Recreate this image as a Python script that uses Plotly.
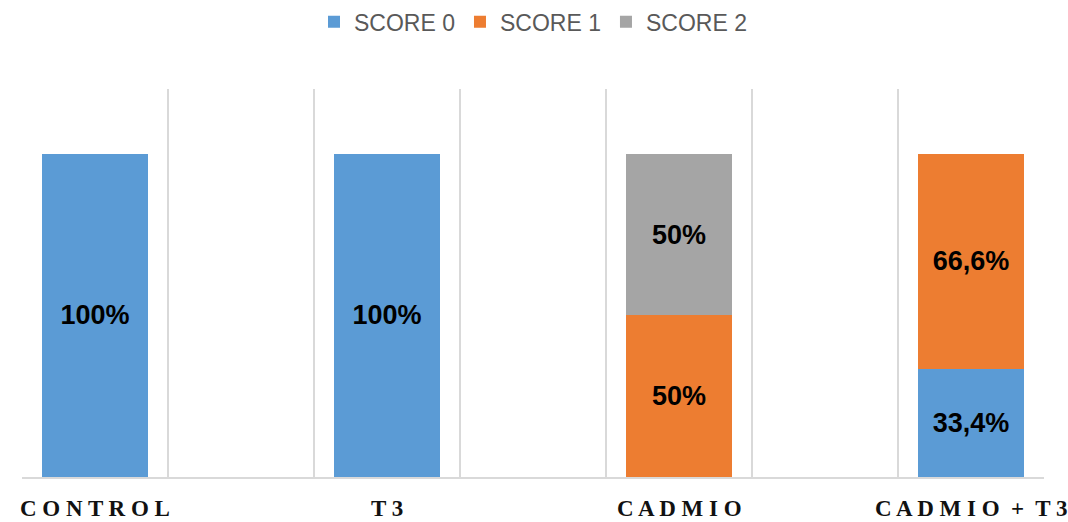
import plotly.graph_objects as go

categories = ["CONTROL", "T3", "CADMIO", "CADMIO + T3"]
series_names = ["SCORE 0", "SCORE 1", "SCORE 2"]
score0 = [1.0, 1.0, 0.0, 0.334]
score1 = [0.0, 0.0, 0.5, 0.666]
score2 = [0.0, 0.0, 0.5, 0.0]
labels0 = ["100%", "100%", "", "33,4%"]
labels1 = ["", "", "50%", "66,6%"]
labels2 = ["", "", "50%", ""]
colors = ["#5B9BD5", "#ED7D31", "#A5A5A5"]

# each category occupies the middle of every other slot of the grid
xpos = [i * 2 + 0.5 for i in range(len(categories))]

fig = go.Figure()
for name, vals, labs, col in zip(series_names, [score0, score1, score2],
                                  [labels0, labels1, labels2], colors):
    fig.add_trace(go.Bar(
        x=xpos, y=vals, name=name, marker=dict(color=col, line=dict(width=0)),
        width=0.73, text=[("<b>" + t + "</b>") if t else "" for t in labs],
        textposition="inside", insidetextanchor="middle",
        textangle=0, constraintext="none",
        textfont=dict(family="Liberation Sans, Arial", size=27, color="#000000"),
        hoverinfo="skip",
    ))

def spaced(s):
    words = s.split(" ")
    return "  ".join(" ".join(list(w)) for w in words)

for xp, cat in zip(xpos, categories):
    fig.add_annotation(
        x=xp, y=0, xref="x", yref="paper", yanchor="top", yshift=-18,
        text="<b>" + spaced(cat) + "</b>", showarrow=False, borderpad=0,
        font=dict(family="Liberation Serif, Times New Roman", size=23, color="#111111"),
    )

fig.update_layout(
    barmode="stack",
    width=1068, height=522,
    margin=dict(l=22, r=24, t=89, b=45),
    plot_bgcolor="white", paper_bgcolor="white",
    showlegend=True,
    legend=dict(orientation="h", xanchor="center", x=0.5, yref="container",
                yanchor="middle", y=0.958, traceorder="normal",
                font=dict(family="Liberation Sans, Arial", size=23, color="#595959"),
                itemclick=False),
    xaxis=dict(range=[0, 7], tick0=0, dtick=1, showgrid=True, gridcolor="#D9D9D9",
               gridwidth=2, showticklabels=False, ticks="", zeroline=False,
               showline=True, linecolor="#D9D9D9", linewidth=2),
    yaxis=dict(range=[0, 1.2], showgrid=False, showticklabels=False, zeroline=False,
               showline=False),
)

fig.write_html("out.html")
